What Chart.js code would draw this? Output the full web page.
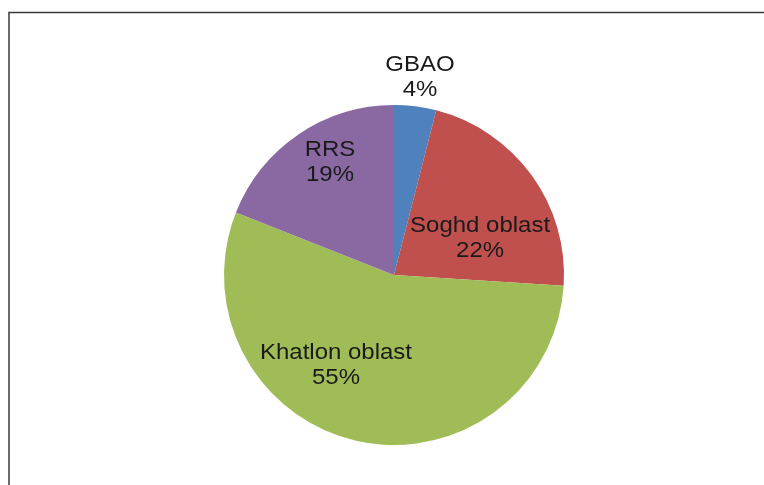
<!DOCTYPE html>
<html>
<head>
<meta charset="utf-8">
<script src="https://cdn.jsdelivr.net/npm/chart.js@4"></script>
<style>
    body { margin: 0; background: #fff; }
    #wrap { width: 764px; height: 485px; }
</style>
</head>
<body>
<div id="wrap"><canvas id="regionChart" width="764" height="485"></canvas></div>
<script>
// Share by region (percent)
const regions = ["GBAO", "Soghd oblast", "Khatlon oblast", "RRS"];
const shares = [4, 22, 55, 19];
const sliceColors = ["#4F81BD", "#C0504D", "#A0BC56", "#8A69A3"];

// where each label sits: degrees clockwise from 12 o'clock, distance as share of radius
const labelSpots = [
    {angle: 7.5, dist: 1.17},
    {angle: 67, dist: 0.55},
    {angle: 212.8, dist: 0.63},
    {angle: 330.3, dist: 0.76}
];

// frame: top and left rules like the original screenshot
const framePlugin = {
    id: "frame",
    beforeDraw(chart) {
        const ctx = chart.ctx;
        ctx.save();
        ctx.strokeStyle = "#3a3a3a";
        ctx.lineWidth = 1.5;
        ctx.beginPath();
        ctx.moveTo(9, chart.height);
        ctx.lineTo(9, 12.5);
        ctx.lineTo(chart.width, 12.5);
        ctx.stroke();
        ctx.restore();
    }
};

// category name + percent drawn on/near each slice
const sliceLabels = {
    id: "sliceLabels",
    afterDatasetsDraw(chart) {
        const ctx = chart.ctx;
        const arcs = chart.getDatasetMeta(0).data;
        const total = shares.reduce((a, b) => a + b, 0);
        arcs.forEach((arc, i) => {
            const spot = labelSpots[i];
            const a = (spot.angle - 90) * Math.PI / 180;
            const r = arc.outerRadius * spot.dist;
            const x = arc.x + Math.cos(a) * r;
            const y = arc.y + Math.sin(a) * r;
            const pct = Math.round(shares[i] / total * 100) + "%";
            ctx.save();
            ctx.translate(x, y);
            ctx.scale(1.09, 1); // the original text is a bit wide
            ctx.font = "22px 'Liberation Sans', Arial, sans-serif";
            ctx.fillStyle = "#1a1a1a";
            ctx.textAlign = "center";
            ctx.textBaseline = "middle";
            ctx.fillText(regions[i], 0, -12.5);
            ctx.fillText(pct, 0, 12.5);
            ctx.restore();
        });
    }
};

new Chart(document.getElementById("regionChart"), {
    type: "pie",
    data: {
        labels: regions,
        datasets: [{
            data: shares,
            backgroundColor: sliceColors,
            borderWidth: 0
        }]
    },
    options: {
        responsive: false,
        animation: false,
        layout: {
            padding: {top: 105, bottom: 40, left: 224, right: 200}
        },
        plugins: {
            legend: {display: false},
            tooltip: {enabled: false}
        }
    },
    plugins: [framePlugin, sliceLabels]
});
</script>
</body>
</html>
